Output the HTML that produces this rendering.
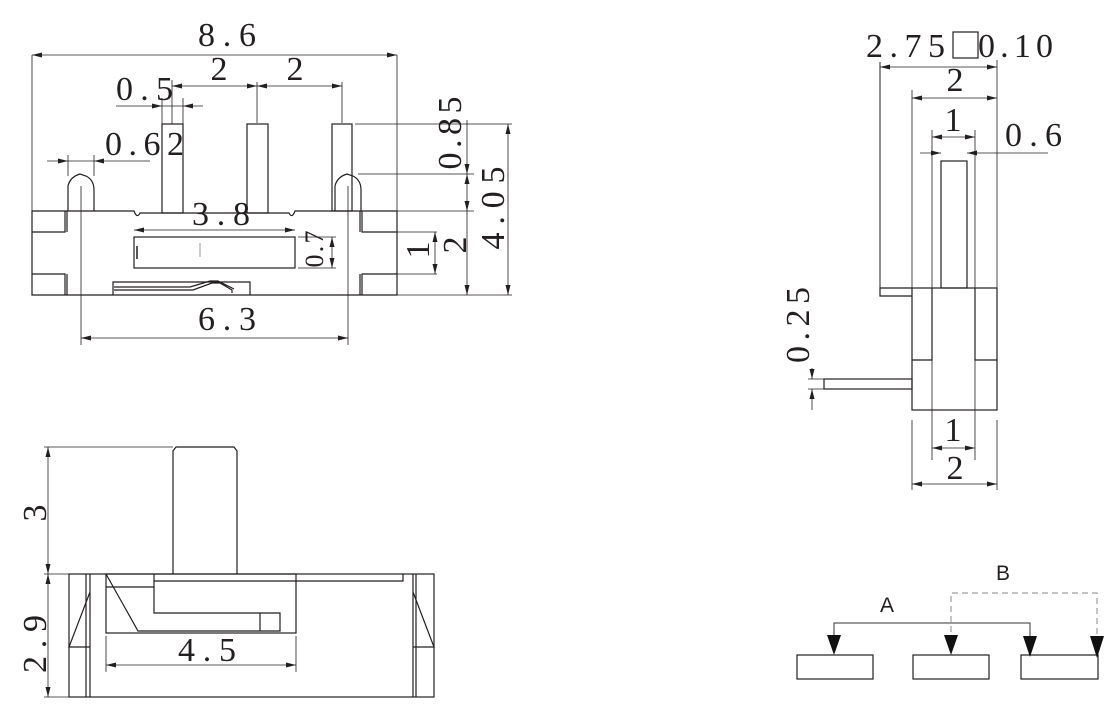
<!DOCTYPE html>
<html><head><meta charset="utf-8"><style>
html,body{margin:0;padding:0;background:#fff}
svg{display:block}
text{font-family:"Liberation Serif",serif;fill:#231f20}
.s{font-family:"Liberation Sans",sans-serif}
</style></head><body>
<svg width="1120" height="722" viewBox="0 0 1120 722" xmlns="http://www.w3.org/2000/svg">
<defs>
<marker id="a" markerUnits="userSpaceOnUse" markerWidth="11" markerHeight="6" refX="10" refY="2.5" orient="auto-start-reverse"><path d="M0,0 L10,2.5 L0,5 z" fill="#231f20"/></marker>
</defs>
<g fill="none" stroke="#231f20" stroke-width="1.2">
<path d="M32,211 H134 Q137,219 140,213 H289 Q292,219 295,211 H397 V295 H32 Z"/>
<path d="M32,232 H65 V211 M32,274 H65 V295 M67,211 V232 M67,274 V295"/>
<path d="M397,232 H362 V211 M397,274 H362 V295 M360,211 V232 M360,274 V295"/>
<rect x="162" y="124" width="21" height="89"/>
<rect x="247" y="124" width="21" height="89"/>
<rect x="332" y="124" width="20" height="87"/>
<path d="M68,211 V186 Q70,177 80,174 L86,176 Q94,180 94,190 V211"/>
<path d="M335,211 V186 Q337,177 347,174 L353,176 Q361,180 361,190 V211"/>
<rect x="134" y="237" width="161" height="31"/>
<path d="M137,246 V259" stroke-width="1.5"/>
<path d="M113,295 V282 H250 V295"/>
<path d="M114,290 H193 L212,283 L220,283 L232,290 L232,293 M114,287 H190 L210,281 L218,281 L234,289"/>
</g>
<path d="M200,243 V257" stroke="#999" stroke-width="1"/>
<g fill="none" stroke="#231f20" stroke-width="0.8">
<path d="M32,55 V211 M397,55 V211 M172,80 V124 M257,82 V123 M342,82 V123 M162,98 V124 M183,98 V124 M68,155 V176 M94,155 V176 M81,186 V345 M348,186 V345"/>
<path d="M355,124 H512 M358,174 H474 M397,211 H474 M397,295 H512 M397,232 H437 M397,274 H437"/>
<path d="M32,55 H397" marker-start="url(#a)" marker-end="url(#a)"/>
<path d="M172,86 H257" marker-start="url(#a)" marker-end="url(#a)"/>
<path d="M257,86 H342" marker-start="url(#a)" marker-end="url(#a)"/>
<path d="M116,106 H162" marker-end="url(#a)"/><path d="M203,106 H183" marker-end="url(#a)"/><path d="M162,106 H183"/>
<path d="M47,161 H68" marker-end="url(#a)"/><path d="M150,161 H94" marker-end="url(#a)"/><path d="M68,161 H94"/>
<path d="M134,230 H295" marker-start="url(#a)" marker-end="url(#a)"/>
<path d="M332,237 V268" marker-start="url(#a)" marker-end="url(#a)"/>
<path d="M298,237 H336 M298,268 H336"/>
<path d="M435,232 V274" marker-start="url(#a)" marker-end="url(#a)"/>
<path d="M467,120 V174" marker-end="url(#a)"/>
<path d="M467,174 V211" marker-start="url(#a)" marker-end="url(#a)"/>
<path d="M467,211 V295" marker-end="url(#a)"/>
<path d="M508,124 V295" marker-start="url(#a)" marker-end="url(#a)"/>
<path d="M81,338 H348" marker-start="url(#a)" marker-end="url(#a)"/>
</g>
<g font-size="34">
<text x="227" y="46" text-anchor="middle" textLength="58" lengthAdjust="spacing">8.6</text>
<text x="219" y="80" text-anchor="middle">2</text>
<text x="295" y="80" text-anchor="middle">2</text>
<text x="116" y="100" textLength="57" lengthAdjust="spacing">0.5</text>
<text x="105" y="155" textLength="79" lengthAdjust="spacing">0.62</text>
<text x="221" y="225" text-anchor="middle" textLength="58" lengthAdjust="spacing">3.8</text>
<text x="227" y="330" text-anchor="middle" textLength="58" lengthAdjust="spacing">6.3</text>
<text transform="translate(461,133) rotate(-90)" text-anchor="middle" textLength="73" lengthAdjust="spacing">0.85</text>
<text transform="translate(504,208) rotate(-90)" text-anchor="middle" textLength="83" lengthAdjust="spacing">4.05</text>
<text transform="translate(466,245) rotate(-90)" text-anchor="middle">2</text>
<text transform="translate(429,250) rotate(-90)" text-anchor="middle">1</text>
</g>
<text font-size="26" transform="translate(323,249) rotate(-90)" text-anchor="middle" textLength="37" lengthAdjust="spacing">0.7</text>

<g fill="none" stroke="#231f20" stroke-width="1.2">
<path d="M173,574 V451 L176,447 H234 L237,451 V574"/>
<rect x="69" y="574" width="365" height="123"/>
<path d="M86,574 V697 M90,574 V697 M413,574 V697 M416,574 V697"/>
<path d="M90,592 L69,647 H90 M413,592 L434,647 H413"/>
<rect x="106" y="574" width="190" height="59"/>
<path d="M106,574 L138,631 H280 V613 H154 V574 M106,587 H154 M260,613 V631 M154,581 H403 V574"/>
</g>
<g fill="none" stroke="#231f20" stroke-width="0.8">
<path d="M44,447 H173 M44,574 H69 M44,697 H69 M106,636 V672 M296,636 V672"/>
<path d="M48,447 V574" marker-start="url(#a)" marker-end="url(#a)"/>
<path d="M48,574 V697" marker-start="url(#a)" marker-end="url(#a)"/>
<path d="M106,665 H296" marker-start="url(#a)" marker-end="url(#a)"/>
</g>
<g font-size="34">
<text x="207" y="661" text-anchor="middle" textLength="58" lengthAdjust="spacing">4.5</text>
<text transform="translate(46,513) rotate(-90)" text-anchor="middle">3</text>
<text transform="translate(46,644) rotate(-90)" text-anchor="middle" textLength="58" lengthAdjust="spacing">2.9</text>
</g>

<g fill="none" stroke="#231f20" stroke-width="1.2">
<rect x="941" y="161" width="26" height="127"/>
<rect x="912" y="288" width="85" height="122"/>
<path d="M932,288 V360 H912 M975,288 V360 H997"/>
<path d="M912,288 H880 V296 H912"/>
<rect x="824" y="379" width="88" height="10"/>
<path d="M880,62 V288" stroke-width="1"/>
</g>
<g fill="none" stroke="#231f20" stroke-width="0.8">
<path d="M997,60 V288 M912,90 V288 M932,130 V460 M975,130 V460 M912,420 V490 M997,420 V490 M808,379 H824 M808,389 H824"/>
<path d="M880,67 H997" marker-start="url(#a)" marker-end="url(#a)"/>
<path d="M912,98 H997" marker-start="url(#a)" marker-end="url(#a)"/>
<path d="M932,137 H975" marker-start="url(#a)" marker-end="url(#a)"/>
<path d="M920,153 H941" marker-end="url(#a)"/><path d="M1048,153 H967" marker-end="url(#a)"/>
<path d="M812,368 V379" marker-end="url(#a)"/><path d="M812,410 V389" marker-end="url(#a)"/>
<path d="M932,448 H975" marker-start="url(#a)" marker-end="url(#a)"/>
<path d="M912,484 H997" marker-start="url(#a)" marker-end="url(#a)"/>
</g>
<rect x="953" y="32" width="25" height="26" fill="none" stroke="#231f20" stroke-width="1.2"/>
<g font-size="34">
<text x="866" y="57" textLength="79" lengthAdjust="spacing">2.75</text>
<text x="978" y="57" textLength="75" lengthAdjust="spacing">0.10</text>
<text x="955" y="91" text-anchor="middle">2</text>
<text x="953" y="131" text-anchor="middle">1</text>
<text x="1005" y="146" textLength="57" lengthAdjust="spacing">0.6</text>
<text x="953" y="441" text-anchor="middle">1</text>
<text x="955" y="479" text-anchor="middle">2</text>
<text transform="translate(809,325) rotate(-90)" text-anchor="middle" textLength="76" lengthAdjust="spacing">0.25</text>
</g>

<g fill="none" stroke="#231f20" stroke-width="1.2">
<rect x="797" y="655" width="76" height="24"/>
<rect x="913" y="655" width="76" height="24"/>
<rect x="1021" y="655" width="77" height="24"/>
</g>
<path d="M834,636 V623 H1030 V636" fill="none" stroke="#333" stroke-width="1"/>
<path d="M951,632 V593 H1097 V636" fill="none" stroke="#888" stroke-width="1" stroke-dasharray="6,4"/>
<g fill="#111">
<path d="M827,635 L841,635 L834,655 z"/>
<path d="M944,635 L958,635 L951,655 z"/>
<path d="M1023,636 L1037,636 L1030,657 z"/>
<path d="M1090,636 L1104,636 L1097,658 z"/>
</g>
<text class="s" x="887" y="612" font-size="21" text-anchor="middle">A</text>
<text class="s" x="1003" y="580" font-size="21" text-anchor="middle">B</text>
</svg>
</body></html>
